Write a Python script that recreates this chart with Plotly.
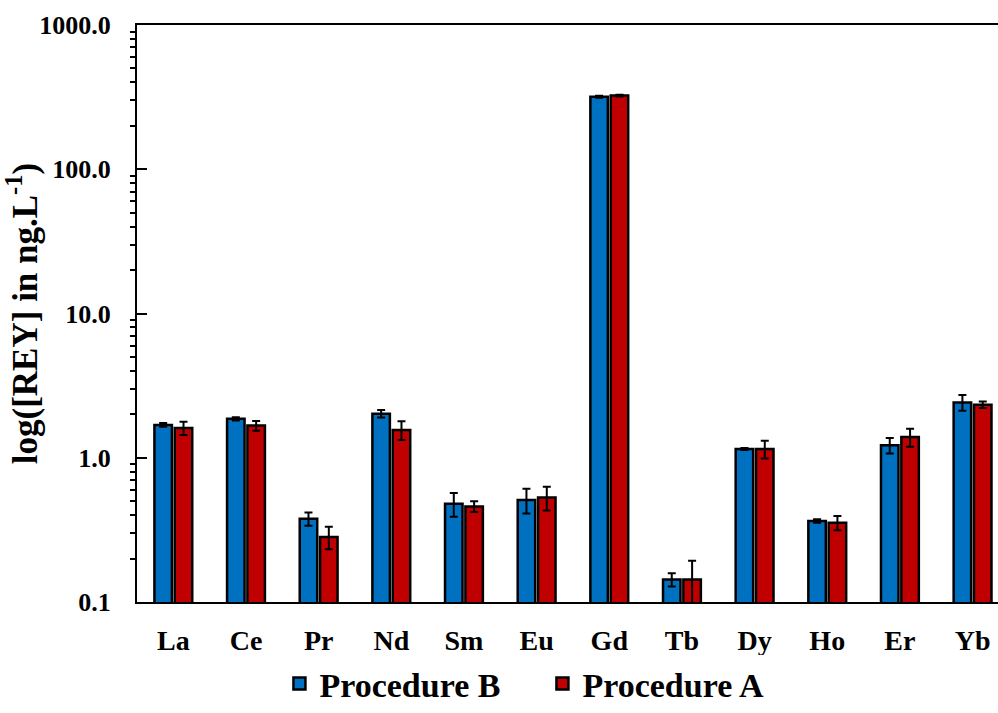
import plotly.graph_objects as go

elements = ["La", "Ce", "Pr", "Nd", "Sm", "Eu", "Gd", "Tb", "Dy", "Ho", "Er", "Yb"]

proc_b = [1.69, 1.86, 0.378, 2.02, 0.48, 0.51, 318, 0.143, 1.15, 0.364, 1.22, 2.42]
proc_b_err = [0.05, 0.05, 0.04, 0.12, 0.09, 0.10, 5, 0.015, 0.02, 0.01, 0.15, 0.30]

proc_a = [1.61, 1.67, 0.282, 1.56, 0.46, 0.53, 324, 0.143, 1.15, 0.354, 1.39, 2.33]
proc_a_err = [0.17, 0.13, 0.05, 0.23, 0.04, 0.10, 5, 0.05, 0.16, 0.04, 0.20, 0.12]

y_ticks = [0.1, 1, 10, 100, 1000]
y_labels = ["0.1", "1.0", "10.0", "100.0", "1000.0"]

font = "Liberation Serif"

# minor ticks 2..9 in each decade
minor_vals = [m * d for d in [0.1, 1, 10, 100] for m in range(2, 10)]

fig = go.Figure()

fig.add_trace(go.Bar(
    name="<b>Procedure B</b>", x=elements, y=proc_b,
    marker=dict(color="#0070C0", line=dict(color="black", width=2.5)),
    error_y=dict(type="data", array=proc_b_err, color="black", thickness=2, width=4),
))
fig.add_trace(go.Bar(
    name="<b>Procedure A</b>", x=elements, y=proc_a,
    marker=dict(color="#C00000", line=dict(color="black", width=2.5)),
    error_y=dict(type="data", array=proc_a_err, color="black", thickness=2, width=4),
))

fig.update_layout(
    width=998, height=713,
    margin=dict(l=137, r=0, t=25, b=111),
    plot_bgcolor="white", paper_bgcolor="white",
    barmode="group", bargap=0.44, bargroupgap=0.14,
    font=dict(family=font, color="black", size=24),
    legend=dict(
        orientation="h", xref="container", yref="container",
        x=0.28, xanchor="left", y=0.0, yanchor="bottom",
        font=dict(family=font, size=34, color="black"),
        itemwidth=30, entrywidth=218, tracegroupgap=0,
    ),
)

fig.update_xaxes(
    range=[-0.5, 11.35], automargin=False,
    showline=True, linecolor="black", linewidth=2, mirror=True,
    ticks="", showgrid=False, ticklabelstandoff=12,
    tickfont=dict(family=font, size=28, color="black"),
    tickprefix="<b>", ticksuffix="</b>",
)

fig.update_yaxes(
    type="log", range=[-1, 3], automargin=False,
    showline=True, linecolor="black", linewidth=2,
    showgrid=False, zeroline=False,
    tickvals=y_ticks,
    ticktext=["<b>%s</b>" % t for t in y_labels],
    ticks="inside", ticklen=10, tickwidth=2, tickcolor="black",
    ticklabelstandoff=19,
    minor=dict(tickvals=minor_vals, ticks="outside", ticklen=5, tickwidth=2,
               tickcolor="black", showgrid=False),
    tickfont=dict(family=font, size=26, color="black"),
    title=dict(text="<b>log([REY] in ng.L<sup>-1</sup>)</b>",
               font=dict(family=font, size=35, color="black"), standoff=0),
)

fig.write_html("out.html", config={"displayModeBar": False},
               post_script="document.body.style.margin='0';")
